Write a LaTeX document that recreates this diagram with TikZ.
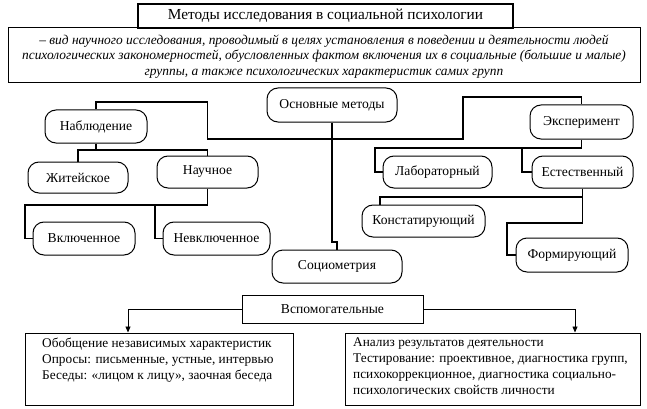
\documentclass[tikz,border=0pt]{standalone}
\usepackage{fontspec}
\setmainfont{Liberation Serif}
\usetikzlibrary{arrows.meta}
\begin{document}
\begin{tikzpicture}[x=1pt,y=-1pt,
  rbox/.style={draw, line width=1pt, rounded corners=11pt, inner sep=0pt, fill=white, font=\fontsize{13.6}{16}\selectfont},
  sbox/.style={draw, line width=1pt, inner sep=0pt, fill=white},
  conn/.style={line width=1.8pt},
  arr/.style={line width=0.8pt, -{Triangle[length=6pt,width=5pt]}},
  btext/.style={anchor=north west, align=left, inner sep=0pt, font=\fontsize{13.3}{15.8}\selectfont}]
\useasboundingbox (0,0) rectangle (647,409);
% header
\node[sbox, minimum width=632pt, minimum height=55pt, align=center,
  font=\itshape\fontsize{13.4}{15.5}\selectfont] (def) at (324,55)
  {\rule{0pt}{12pt}– вид научного исследования, проводимый в целях установления в поведении и деятельности людей\\
   психологических закономерностей, обусловленных фактом включения их в социальные (большие и малые)\\
   группы, а также психологических характеристик самих групп};
\node[sbox, line width=1.3pt, minimum width=375pt, minimum height=24pt, font=\fontsize{15.3}{17}\selectfont] (title) at (325.5,16)
  {Методы исследования в социальной психологии};
% main nodes
\node[rbox, minimum width=130pt, minimum height=34pt] (osn) at (332,105) {Основные методы};
\node[rbox, minimum width=102pt, minimum height=33pt] (nabl) at (96,126.5) {Наблюдение};
\node[rbox, minimum width=100pt, minimum height=31pt] (zhit) at (78,177.5) {Житейское};
\node[rbox, minimum width=101pt, minimum height=32pt] (nauch) at (207.5,172) {Научное};
\node[rbox, minimum width=102pt, minimum height=33pt] (vkl) at (84,238.5) {Включенное};
\node[rbox, minimum width=107pt, minimum height=33pt] (nevkl) at (216.5,238.5) {Невключенное};
\node[rbox, minimum width=103pt, minimum height=34pt] (eksp) at (581.5,122) {Эксперимент};
\node[rbox, minimum width=109pt, minimum height=32pt] (lab) at (437.5,172) {Лабораторный};
\node[rbox, minimum width=101pt, minimum height=32pt] (est) at (582.5,172) {Естественный};
\node[rbox, minimum width=123pt, minimum height=32pt] (konst) at (423.5,221) {Констатирующий};
\node[rbox, minimum width=112pt, minimum height=34pt] (form) at (572,255) {Формирующий};
\node[rbox, minimum width=130pt, minimum height=33pt] (socio) at (337,266.5) {Социометрия};
\node[sbox, minimum width=181pt, minimum height=28pt, font=\fontsize{13.6}{16}\selectfont] (vsp) at (332.5,309) {Вспомогательные};
\node[sbox, minimum width=268pt, minimum height=72pt] (lbox) at (159,369) {};
\node[sbox, minimum width=295pt, minimum height=72pt] (rbox) at (492.5,369) {};
\node[btext] (ltext) at (42,338) {Обобщение независимых характеристик\\
  Опросы: письменные, устные, интервью\\
  Беседы: «лицом к лицу», заочная беседа};
\node[btext] (rtext) at (353,338) {Анализ результатов деятельности\\
  Тестирование: проективное, диагностика групп,\\
  психокоррекционное, диагностика социально-\\
  психологических свойств личности};
% connectors
\draw[conn] (nabl.north) |- (207.5,102) |- (463,139) -- (463,97) -| (eksp.north);
\draw[conn] (osn.south) -- (332,242) -| (socio.north);
\draw[conn] (nabl.south) -- (96,150);
\draw[conn] (zhit.north) |- (nauch.north |- 0,150) -- (nauch.north);
\draw[conn] (nauch.south) -- (207.5,205);
\draw[conn] (vkl.west) -| (25,205) -- (207.5,205);
\draw[conn] (nevkl.west) -| (155,205);
\draw[conn] (eksp.south) -- (581.5,148);
\draw[conn] (lab.west) -| (375,148) -- (581.5,148);
\draw[conn] (est.west) -| (522,148);
\draw[conn] (est.south) |- (380,197) -- ([xshift=-43.5pt]konst.north);
\draw[conn] (est.south) -- (582.5,223) -| (507,255) -- (form.west);
\draw[arr] (vsp.west) -| ([xshift=-31pt]lbox.north);
\draw[arr] (vsp.east) -| ([xshift=82.5pt]rbox.north);
\end{tikzpicture}
\end{document}
